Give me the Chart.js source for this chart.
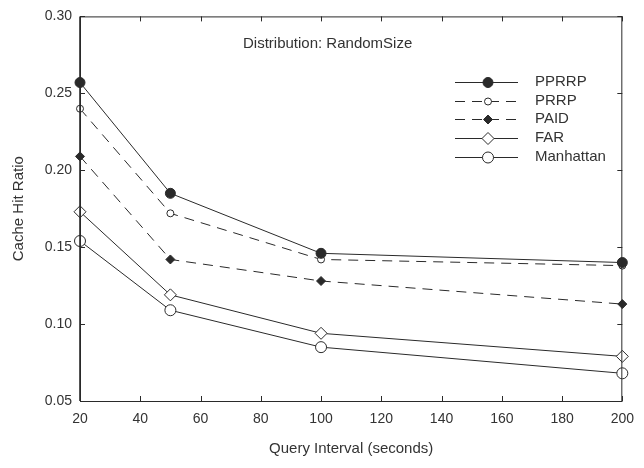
<!DOCTYPE html>
<html>
<head>
<meta charset="utf-8">
<script src="https://cdn.jsdelivr.net/npm/chart.js@4.4.1/dist/chart.umd.min.js"></script>
<style>
  html, body { margin: 0; padding: 0; background: #fff; }
  #wrap { width: 644px; height: 468px; }
</style>
</head>
<body>
<div id="wrap"><canvas id="chart" width="644" height="468"></canvas></div>
<script>
// Query interval (seconds) on the x axis
const intervals = [20, 50, 100, 200];

// Cache hit ratio per method
const pprrp = [0.257, 0.185, 0.146, 0.140];
const prrp = [0.240, 0.172, 0.142, 0.138];
const paid = [0.209, 0.142, 0.128, 0.113];
const far = [0.173, 0.119, 0.094, 0.079];
const manhattan = [0.154, 0.109, 0.085, 0.068];

const seriesNames = ['PPRRP', 'PRRP', 'PAID', 'FAR', 'Manhattan'];
const yTicks = [0.05, 0.10, 0.15, 0.20, 0.25, 0.30];
const xTicks = [20, 40, 60, 80, 100, 120, 140, 160, 180, 200];

const ink = '#2a2a2a';
const fontFamily = '"Liberation Sans", Arial, sans-serif';

function toPoints(values) {
    return values.map((v, i) => ({ x: intervals[i], y: v }));
}

function makeSet(label, values, style) {
    return Object.assign({
        label: label,
        data: toPoints(values),
        borderColor: ink,
        borderWidth: 1,
        pointBorderColor: ink,
        pointBorderWidth: 1,
        tension: 0,
        clip: false
    }, style);
}

const datasets = [
    makeSet(seriesNames[0], pprrp, { pointStyle: 'circle', pointRadius: 5, pointBackgroundColor: ink }),
    makeSet(seriesNames[1], prrp, { pointStyle: 'circle', pointRadius: 3.5, pointBackgroundColor: '#fff', borderDash: [10, 7] }),
    makeSet(seriesNames[2], paid, { pointStyle: 'rectRot', pointRadius: 4.5, pointBackgroundColor: ink, borderDash: [10, 7] }),
    makeSet(seriesNames[3], far, { pointStyle: 'rectRot', pointRadius: 6, pointBackgroundColor: '#fff' }),
    makeSet(seriesNames[4], manhattan, { pointStyle: 'circle', pointRadius: 5.5, pointBackgroundColor: '#fff' })
];

// Frame, inward ticks, inner title and legend
const decorations = {
    id: 'decorations',
    afterDatasetsDraw(chart) {
        const ctx = chart.ctx;
        const area = chart.chartArea;
        const xs = chart.scales.x;
        const ys = chart.scales.y;
        ctx.save();
        ctx.strokeStyle = ink;
        ctx.lineWidth = 1;
        ctx.setLineDash([]);
        ctx.strokeRect(area.left + 0.5, area.top + 0.5, area.right - area.left - 1, area.bottom - area.top);
        ctx.lineWidth = 1.6;
        ctx.beginPath();
        ctx.moveTo(area.left, area.top);
        ctx.lineTo(area.left, area.bottom);
        ctx.stroke();
        ctx.lineWidth = 1;
        ctx.beginPath();
        xTicks.forEach(t => {
            const px = Math.round(xs.getPixelForValue(t)) + 0.5;
            ctx.moveTo(px, area.bottom);
            ctx.lineTo(px, area.bottom - 5);
            ctx.moveTo(px, area.top);
            ctx.lineTo(px, area.top + 5);
        });
        yTicks.forEach(t => {
            const py = Math.round(ys.getPixelForValue(t)) + 0.5;
            ctx.moveTo(area.left, py);
            ctx.lineTo(area.left + 5, py);
            ctx.moveTo(area.right, py);
            ctx.lineTo(area.right - 5, py);
        });
        ctx.stroke();

        // Title inside the plot
        ctx.fillStyle = '#333';
        ctx.font = '15px ' + fontFamily;
        ctx.textAlign = 'left';
        ctx.textBaseline = 'middle';
        ctx.fillText('Distribution: RandomSize', 243, 44);

        // Legend
        const rowY = [82, 101, 119, 138, 157];
        chart.data.datasets.forEach((ds, i) => {
            const y = rowY[i];
            ctx.strokeStyle = ink;
            ctx.lineWidth = 1;
            ctx.setLineDash(ds.borderDash || []);
            ctx.beginPath();
            ctx.moveTo(455, y + 0.5);
            ctx.lineTo(518, y + 0.5);
            ctx.stroke();
            ctx.setLineDash([]);
            ctx.fillStyle = ds.pointBackgroundColor;
            ctx.strokeStyle = ink;
            Chart.helpers.drawPoint(ctx, {
                pointStyle: ds.pointStyle,
                radius: ds.pointRadius,
                rotation: 0,
                borderWidth: 1
            }, 488, y + 0.5);
            ctx.fillStyle = '#333';
            ctx.fillText(ds.label, 535, y);
        });
        ctx.restore();
    }
};

new Chart(document.getElementById('chart').getContext('2d'), {
    type: 'line',
    data: { datasets: datasets },
    options: {
        responsive: false,
        animation: false,
        layout: { padding: { top: 15, right: 14, left: 0, bottom: 0 } },
        plugins: {
            legend: { display: false },
            tooltip: { enabled: false }
        },
        scales: {
            x: {
                type: 'linear',
                min: 20,
                max: 200,
                afterFit: s => { s.height = 67; },
                afterBuildTicks: s => { s.ticks = xTicks.map(v => ({ value: v })); },
                grid: { display: false, drawTicks: false },
                border: { display: false },
                ticks: {
                    padding: 10,
                    color: '#333',
                    font: { family: fontFamily, size: 14 },
                    maxRotation: 0,
                    autoSkip: false
                },
                title: {
                    display: true,
                    text: 'Query Interval (seconds)',
                    color: '#333',
                    font: { family: fontFamily, size: 15 },
                    padding: { top: 0, bottom: 10 }
                }
            },
            y: {
                type: 'linear',
                min: 0.05,
                max: 0.30,
                afterFit: s => { s.width = 80; },
                afterBuildTicks: s => { s.ticks = yTicks.map(v => ({ value: v })); },
                grid: { display: false, drawTicks: false },
                border: { display: false },
                ticks: {
                    padding: 8,
                    color: '#333',
                    font: { family: fontFamily, size: 14 },
                    callback: v => v.toFixed(2)
                },
                title: {
                    display: true,
                    text: 'Cache Hit Ratio',
                    color: '#333',
                    font: { family: fontFamily, size: 15 },
                    padding: { top: 10, bottom: 0 }
                }
            }
        }
    },
    plugins: [decorations]
});
</script>
</body>
</html>
